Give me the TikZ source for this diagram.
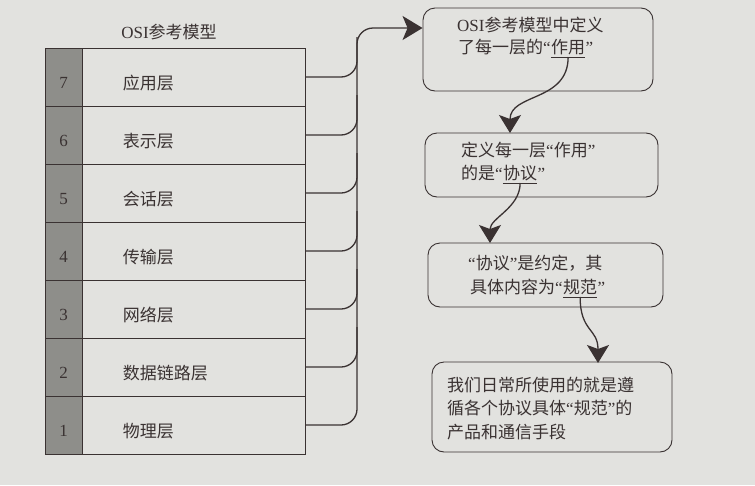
\documentclass[tikz,border=0pt]{standalone}
\usepackage{fontspec}
\usepackage{tikz}
\usetikzlibrary{arrows.meta,calc}
\setmainfont{Liberation Serif}
\newfontfamily\cjk{Noto Sans CJK SC}
\newcommand\qopen{{\rmfamily “}}
\newcommand\qclose{{\rmfamily ”}}
\definecolor{paper}{HTML}{E2E2DF}
\definecolor{numgray}{HTML}{8E8E8A}
\definecolor{inkdark}{HTML}{3A3232}

\begin{document}
\begin{tikzpicture}[x=1pt,y=-1pt,
  numcell/.style={draw=inkdark,line width=0.9pt,fill=numgray,minimum width=37pt,minimum height=58pt,inner sep=0pt},
  layercell/.style={draw=inkdark,line width=0.9pt,minimum width=223pt,minimum height=58pt,inner sep=0pt},
  celltext/.style={inner sep=0pt,text=inkdark,font=\fontsize{17}{23}\selectfont},
  txt/.style={anchor=base west,inner sep=0pt,text=inkdark,font=\fontsize{17}{23}\cjk},
  card/.style={draw=inkdark,line width=0.9pt,rounded corners=12pt,inner sep=0pt},
  wire/.style={draw=inkdark,line width=1.3pt,rounded corners=16pt},
  link/.style={draw=inkdark,line width=1.3pt,-{Stealth[length=18pt,width=22pt,inset=4pt]}},
  uline/.style={draw=inkdark,line width=1pt}]
  \fill[paper] (0,0) rectangle (755,485);
  \useasboundingbox (0,0) rectangle (755,485);

  \node[celltext] (title) at (169,32) {OSI{\cjk 参考模型}};
  \foreach \n/\name [count=\i from 0] in {7/应用层,6/表示层,5/会话层,4/传输层,3/网络层,2/数据链路层,1/物理层}{
    \pgfmathsetmacro\yc{77+58*\i}
    \node[numcell] (n\n) at (63.5,\yc) {};
    \node[layercell] (l\n) at (193.5,\yc) {};
    \node[celltext] (nt\n) at ([yshift=-6pt]n\n.center) {\n};
    \node[celltext,anchor=west] (lt\n) at ([xshift=41pt,yshift=-6pt]l\n.west) {\cjk\name};
  }

  \node[card,minimum width=230pt,minimum height=83pt] (box1) at (538,49.5) {};
  \node[card,minimum width=233pt,minimum height=64pt] (box2) at (541.5,165) {};
  \node[card,minimum width=235pt,minimum height=64pt] (box3) at (545.5,275) {};
  \node[card,minimum width=240pt,minimum height=90pt] (box4) at (552,407) {};

  \node[txt] (b1a) at (457,31) {{\rmfamily OSI}参考模型中定义};
  \node[txt] (b1b) at (458,53) {了每一层的\qopen};
  \node[txt] (zuoyong) at (b1b.base east) {作用};
  \node[txt] (b1c) at (zuoyong.base east) {\qclose};

  \node[txt] (b2a) at (461,156) {定义每一层\qopen 作用\qclose};
  \node[txt] (b2b) at (461,179) {的是\qopen};
  \node[txt] (xieyi) at (b2b.base east) {协议};
  \node[txt] (b2c) at (xieyi.base east) {\qclose};

  \node[txt] (b3a) at (468,269) {\qopen 协议\qclose 是约定，其};
  \node[txt] (b3b) at (470,293) {具体内容为\qopen};
  \node[txt] (guifan) at (b3b.base east) {规范};
  \node[txt] (b3c) at (guifan.base east) {\qclose};

  \node[txt] (b4a) at (447,391) {我们日常所使用的就是遵};
  \node[txt] (b4b) at (447,414) {循各个协议具体\qopen 规范\qclose 的};
  \node[txt] (b4c) at (447,438) {产品和通信手段};

  \draw[uline] ([yshift=-4pt]zuoyong.base west) -- ([yshift=-4pt]zuoyong.base east);
  \draw[uline] ([yshift=-4pt]xieyi.base west) -- ([yshift=-4pt]xieyi.base east);
  \draw[uline] ([yshift=-4pt]guifan.base west) -- ([yshift=-4pt]guifan.base east);

  \coordinate (bus) at (357,28);
  \foreach \n in {2,...,7}
    \draw[wire] (l\n.east) -- (l\n.east -| bus) -- ++(0,-40);
  \draw[wire,-{Stealth[length=20pt,width=24pt,inset=5pt]}] (l1.east) -- (l1.east -| bus) -- (bus) -- (box1.west |- bus);

  \coordinate (in2) at (510,133);
  \coordinate (in3) at (490,243);
  \coordinate (in4) at (598,363);
  \draw[link] ([yshift=-4pt]zuoyong.base) .. controls +(0,45) and +(0,-40) .. (in2);
  \draw[link] ([yshift=-4pt]xieyi.base) .. controls +(0,25) and +(0,-25) .. (in3);
  \draw[link] ([yshift=-4pt]guifan.base) .. controls +(0,35) and +(0,-35) .. (in4);
\end{tikzpicture}
\end{document}
